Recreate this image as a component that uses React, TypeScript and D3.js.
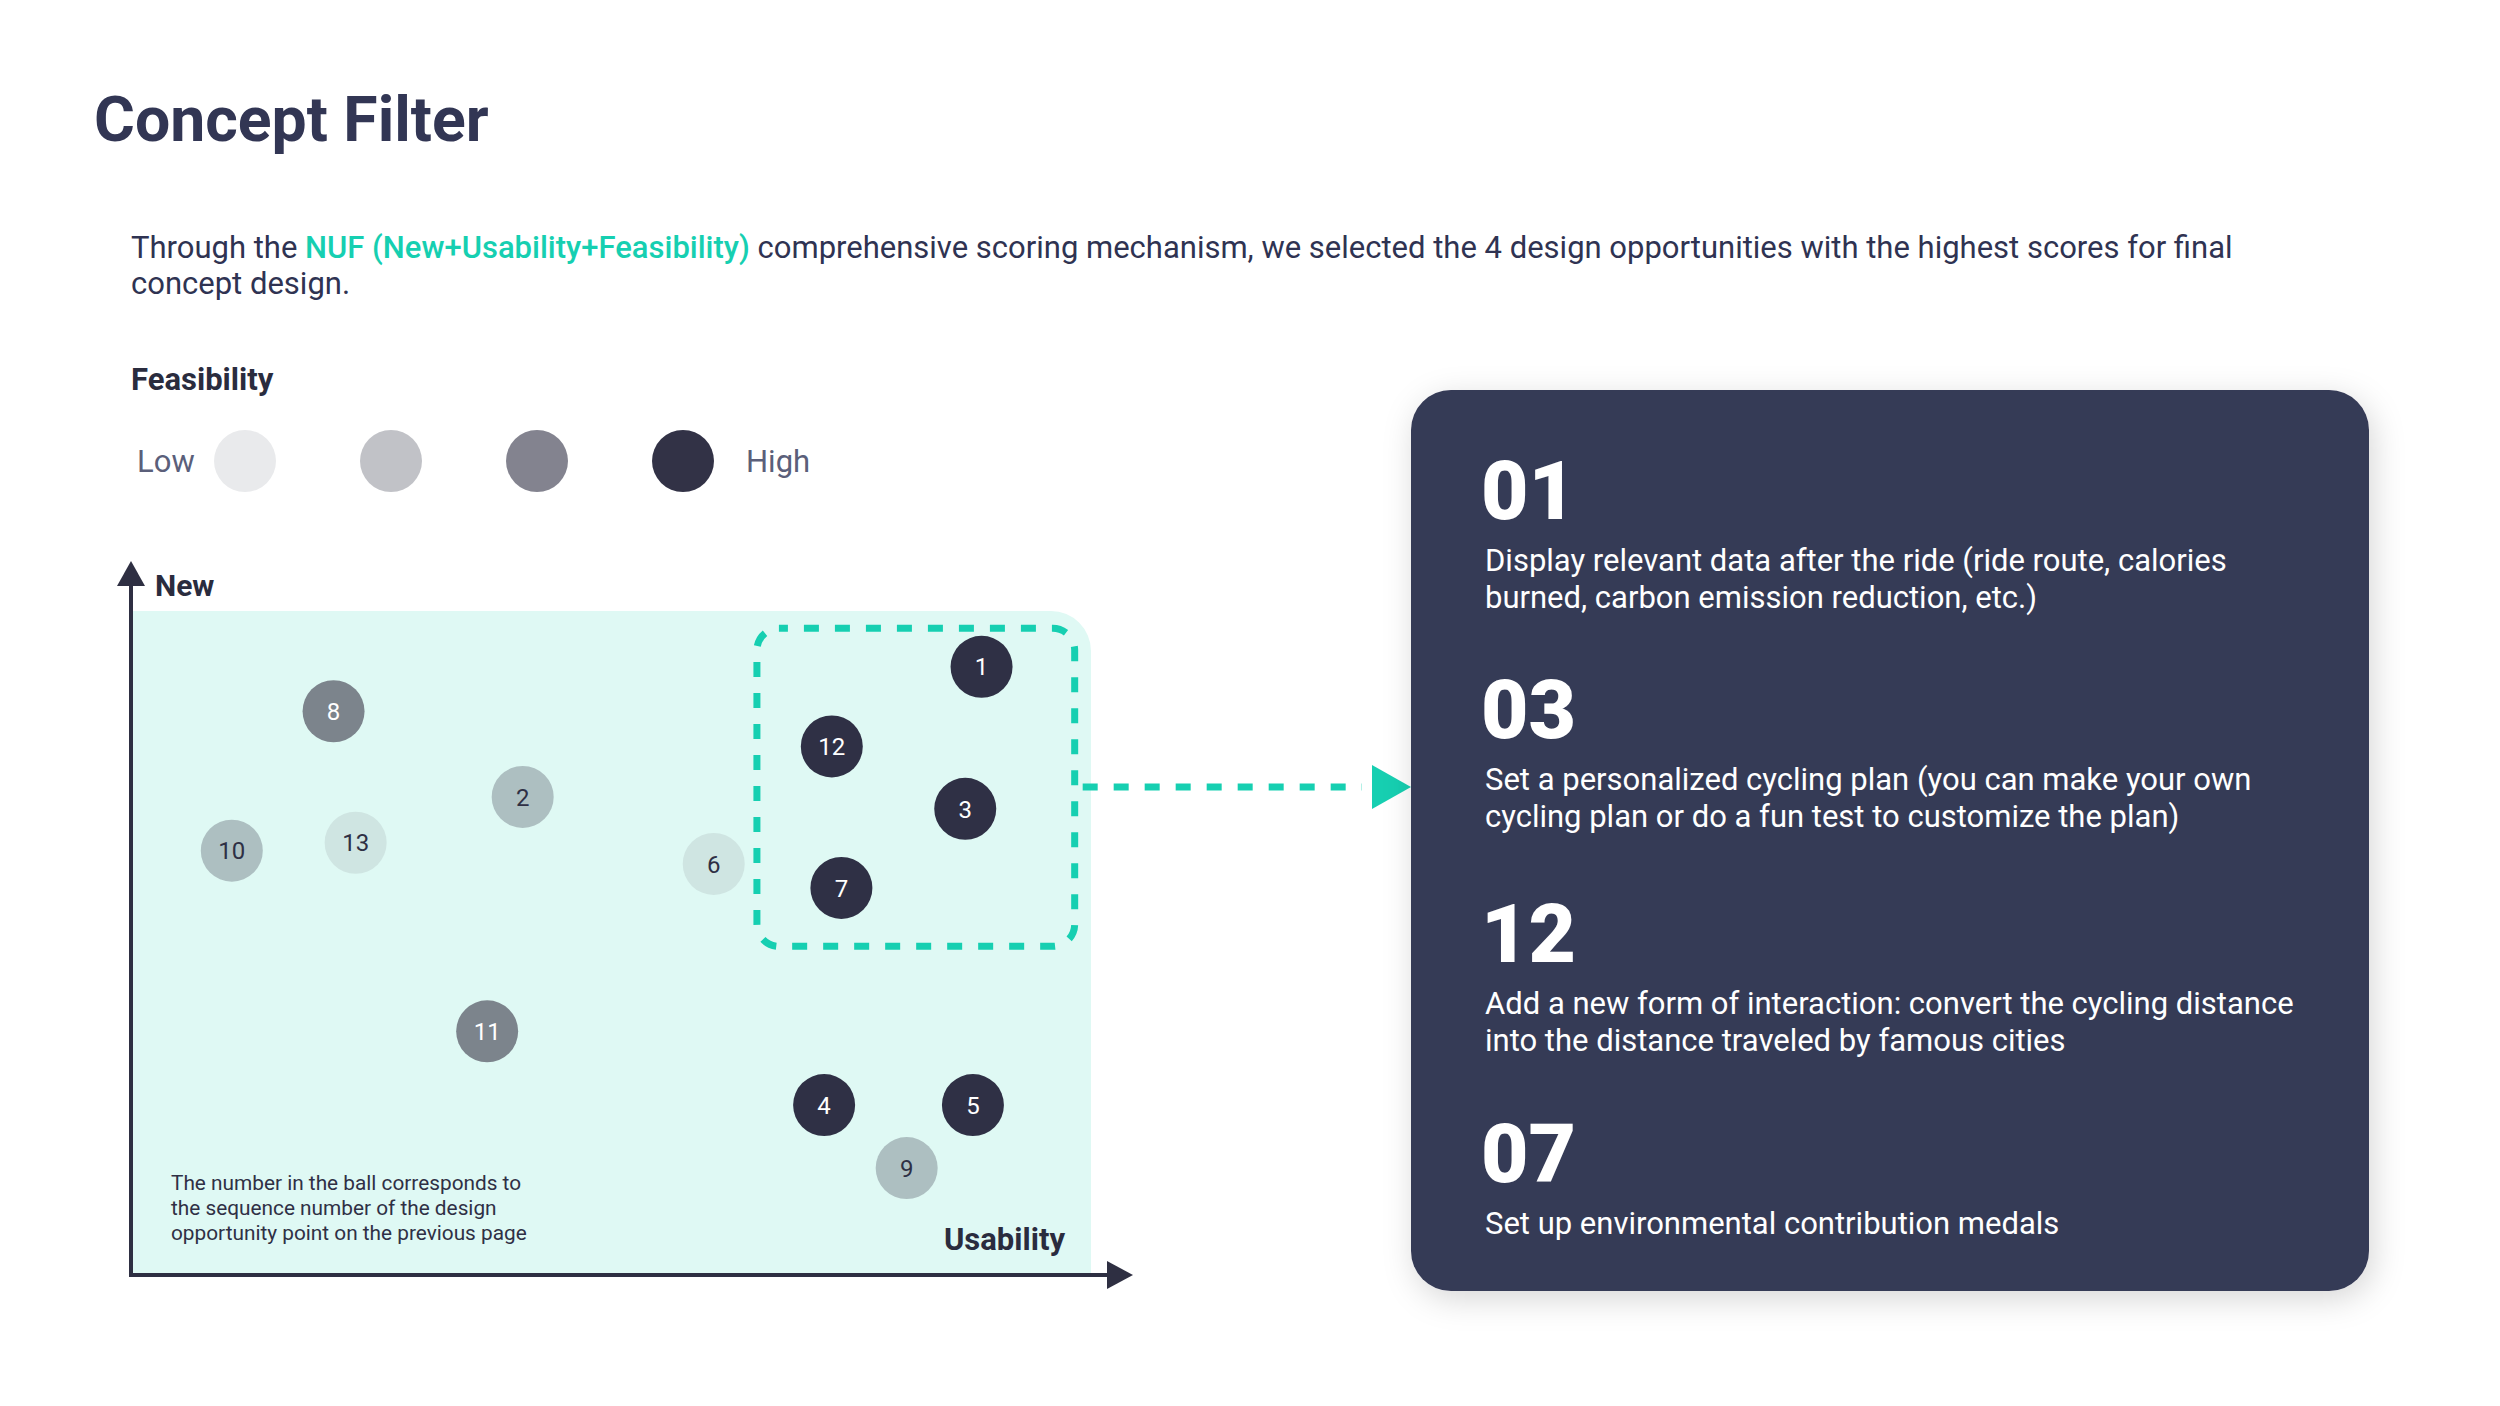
import * as d3 from 'd3';

// opportunity points: id, usability (x), new (y), feasibility level 1..4
const ids = [1, 2, 3, 4, 5, 6, 7, 8, 9, 10, 11, 12, 13];
const usability = [88.6, 40.8, 86.9, 72.2, 87.7, 60.7, 74.0, 21.1, 80.8, 10.5, 37.1, 73.0, 23.4];
const novelty = [91.6, 72.0, 70.2, 25.6, 25.6, 61.9, 58.3, 84.9, 16.1, 63.9, 36.7, 79.6, 65.1];
const feasibility = [4, 2, 4, 4, 4, 1, 4, 3, 2, 2, 3, 4, 1];

// selected concepts (right panel)
const conceptNumbers = ['01', '03', '12', '07'];
const conceptLines = [
    ['Display relevant data after the ride (ride route, calories', 'burned, carbon emission reduction, etc.)'],
    ['Set a personalized cycling plan (you can make your own', 'cycling plan or do a fun test to customize the plan)'],
    ['Add a new form of interaction: convert the cycling distance', 'into the distance traveled by famous cities'],
    ['Set up environmental contribution medals'],
];

// selection box in data units (usability / new)
const selectionBox = { x0: 65.2, x1: 98.3, y0: 49.5, y1: 97.4 };

const legendLevels = [1, 2, 3, 4];

const W = 2500;
const H = 1406;
const FONT = 'Roboto, "Noto Sans", sans-serif';
const NAVY = '#323654';
const TEAL = '#16cfb1';
const AXIS = '#2e2f42';

const legendFill = d3.scaleOrdinal<number, string>().domain(legendLevels).range(['#e9eaec', '#c1c2c7', '#83838f', '#323246']);
const bubbleFill = d3.scaleOrdinal<number, string>().domain(legendLevels).range(['#cfe5e2', '#adbfc1', '#7c848c', '#2f3045']);
const bubbleText = d3.scaleOrdinal<number, string>().domain(legendLevels).range(['#2f3045', '#2f3045', '#ffffff', '#ffffff']);

const App = () => {
    const plot = { left: 131, right: 1091, top: 611, bottom: 1275 };

    const x = d3.scaleLinear().domain([0, 100]).range([plot.left, plot.right]);
    const y = d3.scaleLinear().domain([0, 100]).range([plot.bottom, plot.top]);

    const legendX = d3.scalePoint<number>().domain(legendLevels).range([245, 683]);

    const points = ids.map((id, i) => ({ id, u: usability[i], n: novelty[i], f: feasibility[i] }));

    // background: only top-right corner rounded
    const r = 40;
    const bgPath = `M${plot.left},${plot.bottom} V${plot.top} H${plot.right - r} A${r},${r} 0 0 1 ${plot.right},${plot.top + r} V${plot.bottom} Z`;

    const bx0 = x(selectionBox.x0);
    const bx1 = x(selectionBox.x1);
    const by0 = y(selectionBox.y1);
    const by1 = y(selectionBox.y0);
    const arrowY = 787;

    const panel = { x: 1411, y: 390, w: 958, h: 901 };
    const blockTop = [519, 738, 962, 1182];

    return (
        <div style={{ position: 'absolute', left: 0, top: 0 }}>
            <svg width={W} height={H} style={{ display: 'block', background: '#fff' }} fontFamily={FONT}>
                <defs>
                    <filter id="panel-shadow" x="-10%" y="-10%" width="125%" height="125%">
                        <feDropShadow dx="4" dy="8" stdDeviation="16" floodColor="#000" floodOpacity="0.16" />
                    </filter>
                </defs>

                {/* title + intro */}
                <text x={94} y={141} fontSize={62.5} fontWeight={700} fill={NAVY}>Concept Filter</text>
                <text x={131} y={258} fontSize={31} fill="#2f3352">
                    Through the <tspan fill={TEAL} fontWeight={500}>NUF (New+Usability+Feasibility)</tspan> comprehensive scoring mechanism, we selected the 4 design opportunities with the highest scores for final
                </text>
                <text x={131} y={294} fontSize={31} fill="#2f3352">concept design.</text>

                {/* legend */}
                <text x={131} y={390} fontSize={31} fontWeight={700} fill="#2a2c3e">Feasibility</text>
                <text x={137} y={472} fontSize={31} fill="#5b5f7a">Low</text>
                {legendLevels.map(l => (
                    <circle key={l} cx={legendX(l)} cy={461} r={31} fill={legendFill(l)} />
                ))}
                <text x={746} y={472} fontSize={31} fill="#5b5f7a">High</text>

                {/* plot background */}
                <path d={bgPath} fill="#dff9f4" />

                {/* selection box + connector */}
                <rect x={bx0} y={by0} width={bx1 - bx0} height={by1 - by0} rx={22}
                    fill="none" stroke={TEAL} strokeWidth={7} strokeDasharray="15 16" strokeDashoffset={6} />
                <line x1={bx1 + 4} x2={1362} y1={arrowY} y2={arrowY} stroke={TEAL} strokeWidth={7} strokeDasharray="15 16" strokeDashoffset={-4} />
                <path d={`M1372,${arrowY - 22} L1411,${arrowY} L1372,${arrowY + 22} Z`} fill={TEAL} />

                {/* bubbles */}
                {points.map(p => (
                    <g key={p.id} transform={`translate(${x(p.u)},${y(p.n)})`}>
                        <circle r={31} fill={bubbleFill(p.f)} />
                        <text textAnchor="middle" dy="0.36em" fontSize={24} fill={bubbleText(p.f)}>{p.id}</text>
                    </g>
                ))}

                {/* axes */}
                <line x1={plot.left} x2={plot.left} y1={plot.bottom + 2} y2={580} stroke={AXIS} strokeWidth={4} />
                <path d={`M${plot.left - 14},586 L${plot.left},561 L${plot.left + 14},586 Z`} fill={AXIS} />
                <line x1={plot.left - 2} x2={1112} y1={plot.bottom} y2={plot.bottom} stroke={AXIS} strokeWidth={4} />
                <path d={`M1107,${plot.bottom - 14} L1133,${plot.bottom} L1107,${plot.bottom + 14} Z`} fill={AXIS} />
                <text x={155} y={596} fontSize={30} fontWeight={700} fill="#2a2c3e">New</text>
                <text x={1065} y={1250} fontSize={31} fontWeight={700} fill="#2a2c3e" textAnchor="end">Usability</text>

                {/* note */}
                {['The number in the ball corresponds to', 'the sequence number of the design', 'opportunity point on the previous page'].map((t, i) => (
                    <text key={i} x={171} y={1190 + i * 25} fontSize={20.8} fill="#2f3045">{t}</text>
                ))}

                {/* concept panel */}
                <rect x={panel.x} y={panel.y} width={panel.w} height={panel.h} rx={40} fill="#363a56" filter="url(#panel-shadow)" />
                {conceptNumbers.map((num, i) => (
                    <g key={num}>
                        <text x={1481} y={blockTop[i]} fontSize={82} fontWeight={900} fill="#fff">{num}</text>
                        {conceptLines[i].map((line, j) => (
                            <text key={j} x={1485} y={blockTop[i] + 52 + j * 37} fontSize={31} fill="#fff">{line}</text>
                        ))}
                    </g>
                ))}
            </svg>
        </div>
    );
};

export default App;
